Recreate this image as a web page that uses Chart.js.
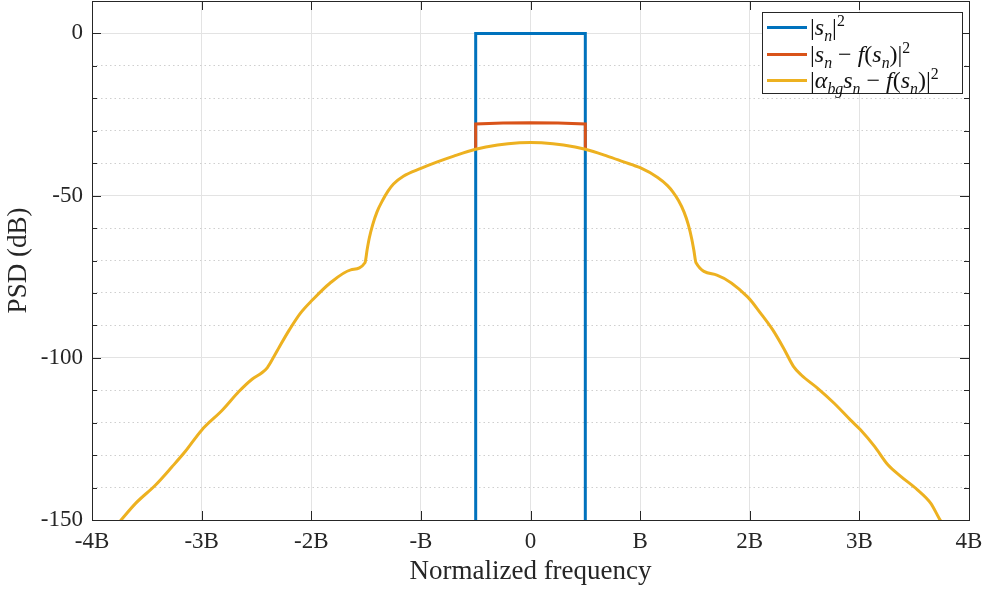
<!DOCTYPE html>
<html>
<head>
<meta charset="utf-8">
<script src="https://cdn.jsdelivr.net/npm/chart.js@4.4.1/dist/chart.umd.min.js"></script>
<style>
  body { margin: 0; background: #fff; }
  #wrap { position: relative; width: 987px; height: 591px; }
  #legend {
    position: absolute; left: 762px; top: 12px; width: 201px; height: 82px;
    box-sizing: border-box; border: 1px solid #262626; background: #fff;
    font-family: 'Liberation Serif', serif; font-size: 24px; color: #111;
  }
  .row { position: absolute; left: 0; height: 26px; line-height: 26px; white-space: nowrap; }
  .swatch { position: absolute; left: 4px; top: 12px; width: 40px; height: 3px; }
  .label { position: absolute; left: 47px; top: 0; }
  sub, sup { font-size: 66%; line-height: 0; }
</style>
</head>
<body>
<div id="wrap">
  <canvas id="psdChart" width="987" height="591"></canvas>
  <div id="legend"></div>
</div>
<script>
// frequency axis in multiples of B, PSD in dB
const freqBlue = [-0.5, -0.5, 0.5, 0.5];
const psdBlue = [-200, 0, 0, -200];

const freqOrange = [-0.5, -0.5, -0.25, 0, 0.25, 0.5, 0.5];
const psdOrange = [-35.5, -27.9, -27.6, -27.5, -27.6, -27.9, -35.5];

const freqYellow = [
  -3.80, -3.74, -3.60, -3.42, -3.27, -3.15, -3.00, -2.81, -2.66, -2.54, -2.45, -2.40, -2.34, -2.29,
  -2.20, -2.10, -1.99, -1.83, -1.64, -1.51, -1.49, -1.47, -1.44, -1.40, -1.35, -1.30, -1.25, -1.16,
  -1.00, -0.85, -0.70, -0.50, -0.30, -0.10, 0,
  0.10, 0.30, 0.50, 0.70, 0.85, 1.00, 1.16, 1.25, 1.30, 1.35, 1.40, 1.44, 1.47, 1.49, 1.51, 1.70,
  1.98, 2.10, 2.21, 2.31, 2.40, 2.47, 2.62, 2.77, 2.92, 3.01, 3.14, 3.26, 3.38, 3.53, 3.65, 3.74, 3.80
];
const psdYellow = [
  -152.5, -150.2, -144.8, -139.2, -133.6, -128.9, -122.3, -116.1, -110.4, -106.6, -104.6, -103.0, -99.6, -96.6,
  -91.4, -86.3, -82.2, -77.0, -72.9, -70.7, -66.6, -63.0, -59.0, -55.0, -51.5, -48.6, -46.4, -44.0,
  -41.6, -39.6, -37.8, -35.7, -34.4, -33.7, -33.6,
  -33.7, -34.4, -35.7, -37.8, -39.6, -41.4, -44.4, -46.9, -48.9, -51.5, -55.0, -59.0, -63.2, -66.8, -70.7, -74.5,
  -81.2, -86.3, -91.4, -97.1, -102.7, -105.3, -109.4, -114.0, -119.2, -122.2, -127.4, -133.0, -136.6, -140.7,
  -144.8, -150.2, -153.0
];

const xTickValues = [-4, -3, -2, -1, 0, 1, 2, 3, 4];
const xTickLabels = ['-4B', '-3B', '-2B', '-B', '0', 'B', '2B', '3B', '4B'];
const yTickValues = [0, -50, -100, -150];

const seriesNames = [
  '|<i>s<sub>n</sub></i>|<sup>2</sup>',
  '|<i>s<sub>n</sub></i> &minus; <i>f</i>(<i>s<sub>n</sub></i>)|<sup>2</sup>',
  '|<i>&alpha;<sub>bg</sub>s<sub>n</sub></i> &minus; <i>f</i>(<i>s<sub>n</sub></i>)|<sup>2</sup>'
];
const seriesColors = ['#0072BD', '#D95319', '#EDB120'];

function toPoints(xs, ys) {
  return xs.map((x, i) => ({ x: x, y: ys[i] }));
}

const axisColor = '#262626';
const tickFont = { family: "'Liberation Serif', serif", size: 23 };
const titleFont = { family: "'Liberation Serif', serif", size: 27 };

// box outline and inward tick marks on all four sides
const framePlugin = {
  id: 'frame',
  afterDraw(chart) {
    const { ctx, chartArea: a, scales } = chart;
    ctx.save();
    ctx.strokeStyle = axisColor;
    ctx.lineWidth = 1;
    ctx.beginPath();
    xTickValues.forEach(v => {
      const px = Math.round(scales.x.getPixelForValue(v)) + 0.5;
      ctx.moveTo(px, a.bottom); ctx.lineTo(px, a.bottom - 9);
      ctx.moveTo(px, a.top); ctx.lineTo(px, a.top + 9);
    });
    scales.y.ticks.forEach(t => {
      if (t.value > 0) return;
      const len = t.value % 50 === 0 ? 9 : 5;
      const py = Math.round(scales.y.getPixelForValue(t.value)) + 0.5;
      ctx.moveTo(a.left, py); ctx.lineTo(a.left + len, py);
      ctx.moveTo(a.right, py); ctx.lineTo(a.right - len, py);
    });
    ctx.stroke();
    ctx.strokeRect(Math.round(a.left) + 0.5, Math.round(a.top) + 0.5,
      Math.round(a.right - a.left), Math.round(a.bottom - a.top));
    ctx.restore();
  }
};

new Chart(document.getElementById('psdChart'), {
  type: 'scatter',
  data: {
    datasets: [
      { data: toPoints(freqBlue, psdBlue), borderColor: seriesColors[0], order: 3 },
      { data: toPoints(freqOrange, psdOrange), borderColor: seriesColors[1], order: 2 },
      { data: toPoints(freqYellow, psdYellow), borderColor: seriesColors[2], order: 1,
        cubicInterpolationMode: 'monotone' }
    ]
  },
  options: {
    responsive: false,
    animation: false,
    showLine: true,
    elements: {
      point: { radius: 0 },
      line: { borderWidth: 3, tension: 0 }
    },
    layout: { padding: { top: 1, right: 18, left: 0, bottom: 0 } },
    plugins: { legend: { display: false }, tooltip: { enabled: false } },
    scales: {
      x: {
        type: 'linear', min: -4, max: 4,
        afterFit(scale) {
          scale.height = 71;
          scale.paddingLeft = 0;
          scale.paddingRight = 0;
        },
        afterBuildTicks(scale) { scale.ticks = xTickValues.map(v => ({ value: v })); },
        ticks: {
          font: tickFont, color: axisColor, padding: 8, maxRotation: 0,
          callback: (v) => xTickLabels[xTickValues.indexOf(v)]
        },
        grid: { color: '#e3e3e3', lineWidth: 1, drawTicks: false },
        border: { display: false },
        title: {
          display: true, text: 'Normalized frequency', color: axisColor,
          font: titleFont, padding: { top: 0, bottom: 3 }
        }
      },
      y: {
        type: 'linear', min: -150, max: 10,
        afterFit(scale) {
          scale.width = 92;
          scale.paddingTop = 0;
          scale.paddingBottom = 0;
        },
        ticks: {
          stepSize: 10, font: tickFont, color: axisColor, padding: 9,
          callback: (v) => yTickValues.includes(v) ? String(v) : ''
        },
        grid: {
          drawTicks: false, lineWidth: 1,
          color: (c) => {
            if (!c.tick || c.tick.value > 0) return 'rgba(0,0,0,0)';
            return c.tick.value % 50 === 0 ? '#e3e3e3' : '#cfcfcf';
          }
        },
        border: {
          display: false,
          dash: (c) => (c.tick && c.tick.value % 50 !== 0) ? [1.5, 3] : []
        },
        title: {
          display: true, text: 'PSD (dB)', color: axisColor,
          font: titleFont, padding: { top: 3, bottom: 0 }
        }
      }
    }
  },
  plugins: [framePlugin]
});

// legend with math-style entries
const legend = document.getElementById('legend');
seriesNames.forEach((name, i) => {
  const row = document.createElement('div');
  row.className = 'row';
  row.style.top = (i * 26.5 + 1) + 'px';
  row.innerHTML = '<span class="swatch" style="background:' + seriesColors[i] + '"></span>' +
    '<span class="label">' + name + '</span>';
  legend.appendChild(row);
});
</script>
</body>
</html>
